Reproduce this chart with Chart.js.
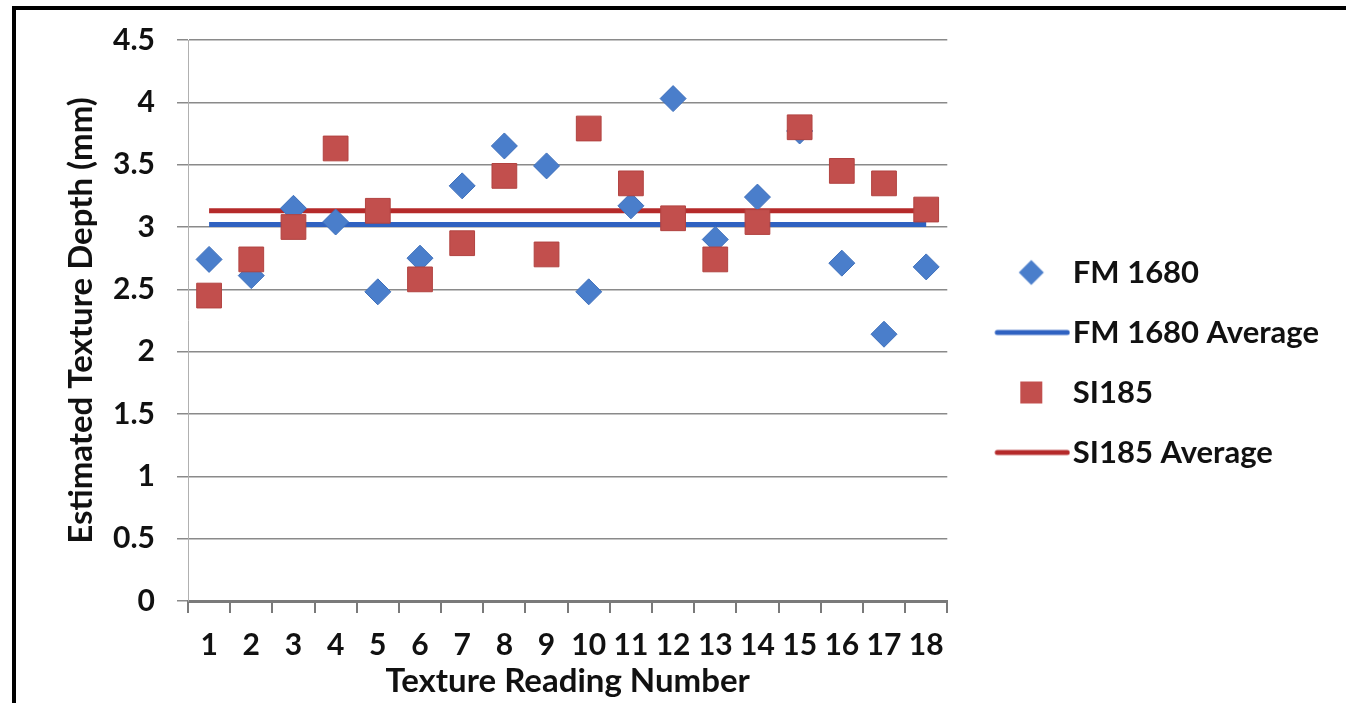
<!DOCTYPE html>
<html>
<head>
<meta charset="utf-8">
<script src="https://cdn.jsdelivr.net/npm/chart.js@4.4.0/dist/chart.umd.min.js"></script>
<style>
  body { margin: 0; background: #fff; }
  #wrap { position: relative; width: 1346px; height: 703px; overflow: hidden; }
  #frame { position: absolute; left: 12px; top: 6px; width: 1400px; height: 800px;
           border-top: 4px solid #000; border-left: 4px solid #000; pointer-events: none; }
</style>
</head>
<body>
<div id="wrap">
  <canvas id="chart" width="1346" height="703"></canvas>
  <div id="frame"></div>
</div>
<script>
const readings = ["1", "2", "3", "4", "5", "6", "7", "8", "9", "10", "11", "12", "13", "14", "15", "16", "17", "18"];
const fm1680 = [2.74, 2.61, 3.15, 3.04, 2.48, 2.75, 3.33, 3.65, 3.49, 2.48, 3.17, 4.03, 2.90, 3.24, 3.77, 2.71, 2.14, 2.68];
const si185 = [2.45, 2.74, 3.00, 3.63, 3.13, 2.58, 2.87, 3.41, 2.78, 3.79, 3.35, 3.07, 2.74, 3.04, 3.80, 3.45, 3.35, 3.14];
const fm1680Average = [3.02, 3.02, 3.02, 3.02, 3.02, 3.02, 3.02, 3.02, 3.02, 3.02, 3.02, 3.02, 3.02, 3.02, 3.02, 3.02, 3.02, 3.02];
const si185Average = [3.13, 3.13, 3.13, 3.13, 3.13, 3.13, 3.13, 3.13, 3.13, 3.13, 3.13, 3.13, 3.13, 3.13, 3.13, 3.13, 3.13, 3.13];

const blue = "#4a7ecb";
const blueLine = "#2f62c1";
const red = "#c24f4d";
const redLine = "#b52a2a";
const font = "Lato";

// legend swatches drawn on small canvases so the marker and line sit like Excel's
function swatch(kind, color) {
  const c = document.createElement("canvas");
  c.width = 107;
  c.height = 30;
  const g = c.getContext("2d");
  g.fillStyle = color;
  g.strokeStyle = color;
  if (kind === "line") {
    g.lineWidth = 5;
    g.lineCap = "round";
    g.beginPath();
    g.moveTo(34, 15);
    g.lineTo(104, 15);
    g.stroke();
  } else if (kind === "diamond") {
    g.beginPath();
    g.moveTo(68, 2.5);
    g.lineTo(80.5, 15);
    g.lineTo(68, 27.5);
    g.lineTo(55.5, 15);
    g.closePath();
    g.fill();
  } else {
    g.fillRect(57, 4, 22, 22);
  }
  return c;
}

const legendSwatches = [
  swatch("diamond", blue),
  swatch("line", blueLine),
  swatch("square", red),
  swatch("line", redLine),
];

const ctx = document.getElementById("chart").getContext("2d");
const chart = new Chart(ctx, {
  type: "line",
  data: {
    labels: readings,
    datasets: [
      {
        label: "FM 1680",
        data: fm1680,
        showLine: false,
        pointStyle: "rectRot",
        pointRadius: 13,
        backgroundColor: blue,
        borderColor: "#3f70bb",
        borderWidth: 1,
        order: 1,
      },
      {
        label: "FM 1680 Average",
        data: fm1680Average,
        borderColor: blueLine,
        borderWidth: 5,
        pointRadius: 0,
        order: 2,
      },
      {
        label: "SI185",
        data: si185,
        showLine: false,
        pointStyle: "rect",
        pointRadius: 17.5,
        backgroundColor: red,
        borderColor: "#b24340",
        borderWidth: 1,
        order: 0,
      },
      {
        label: "SI185 Average",
        data: si185Average,
        borderColor: redLine,
        borderWidth: 5,
        pointRadius: 0,
        order: 3,
      },
    ],
  },
  options: {
    responsive: false,
    animation: false,
    layout: { padding: { top: 22, left: 16, right: 17, bottom: 0 } },
    plugins: {
      tooltip: { enabled: false },
      legend: {
        position: "right",
        maxWidth: 401,
        labels: {
          usePointStyle: true,
          pointStyleWidth: 81,
          padding: 29,
          color: "#111",
          font: { family: font, size: 31, weight: "bold" },
          generateLabels: (c) =>
            c.data.datasets.map((ds, i) => ({
              text: ds.label,
              pointStyle: legendSwatches[i],
              fillStyle: "transparent",
              strokeStyle: "transparent",
              lineWidth: 0,
              fontColor: "#111",
              hidden: false,
              datasetIndex: i,
            })),
        },
      },
    },
    scales: {
      x: {
        offset: true,
        grid: {
          offset: true,
          drawOnChartArea: false,
          drawTicks: true,
          tickLength: 12,
          color: "#7a7a7a",
          lineWidth: 2,
        },
        border: { color: "#7a7a7a", width: 3 },
        ticks: {
          autoSkip: false,
          maxRotation: 0,
          padding: 14,
          color: "#111",
          font: { family: font, size: 30, weight: "bold" },
        },
        title: {
          display: true,
          text: "Texture Reading Number",
          color: "#111",
          padding: { top: 0, bottom: 2 },
          font: { family: font, size: 33, weight: "bold" },
        },
        afterFit: (scale) => {
          scale.height = 102;
        },
      },
      y: {
        min: 0,
        max: 4.5,
        ticks: {
          stepSize: 0.5,
          padding: 22,
          color: "#111",
          font: { family: font, size: 30, weight: "bold" },
          callback: (value) => String(value),
        },
        grid: { color: "#8a8a8a", lineWidth: 1.5, tickLength: 11 },
        border: { color: "#b0b0b0", width: 1 },
        title: {
          display: true,
          text: "Estimated Texture Depth (mm)",
          color: "#111",
          padding: { top: 46, bottom: 0 },
          font: { family: font, size: 33, weight: "bold" },
        },
        afterFit: (scale) => {
          scale.width = 172;
        },
      },
    },
  },
});
</script>
</body>
</html>
